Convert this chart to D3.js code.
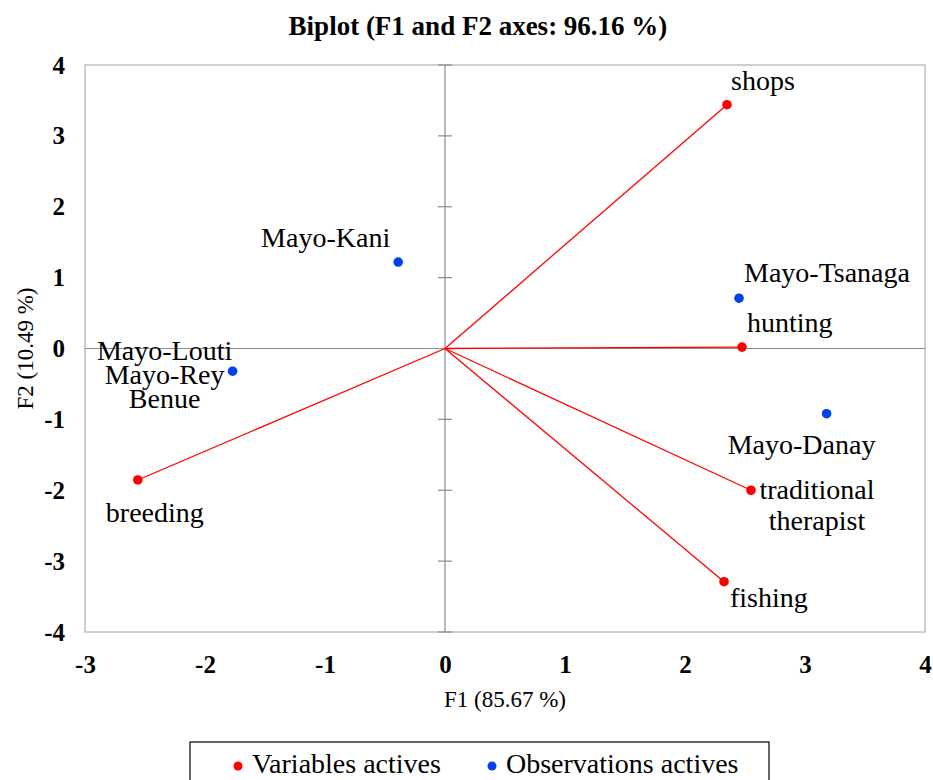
<!DOCTYPE html>
<html lang="en">
  <head>
    <meta charset="UTF-8" />
    <title>Biplot</title>
    <style>
      body { margin: 0; background: #fff; }
      svg text { font-family: 'Liberation Serif', 'Times New Roman', serif; fill: #000; }
    </style>
  </head>
  <body>
    <svg id="chart"></svg>
    <script src="https://cdn.jsdelivr.net/npm/d3@7"></script>
    <script>
      // active variables (arrows from origin)
      const varNames = ['shops', 'hunting', 'traditional therapist', 'fishing', 'breeding'];
      const varF1 = [2.35, 2.475, 2.55, 2.325, -2.56];
      const varF2 = [3.44, 0.02, -2.0, -3.29, -1.855];

      // active observations
      const obsNames = ['Mayo-Kani', 'Mayo-Tsanaga', 'Mayo-Danay', 'Mayo-Louti Mayo-Rey Benue'];
      const obsF1 = [-0.39, 2.45, 3.18, -1.77];
      const obsF2 = [1.22, 0.71, -0.92, -0.32];

      const xTicks = [-3, -2, -1, 0, 1, 2, 3, 4];
      const yTicks = [-4, -3, -2, -1, 0, 1, 2, 3, 4];

      // label placement (pixel offsets from the point), kept apart from the data
      const labelLayout = {
        'shops': { dx: 4, dy: -15, anchor: 'start', lines: ['shops'] },
        'hunting': { dx: 5, dy: -15, anchor: 'start', lines: ['hunting'] },
        'traditional therapist': { dx: 66, dy: 9, anchor: 'middle', lines: ['traditional', 'therapist'], lh: 31 },
        'fishing': { dx: 6, dy: 25, anchor: 'start', lines: ['fishing'] },
        'breeding': { dx: 17, dy: 42, anchor: 'middle', lines: ['breeding'] },
        'Mayo-Kani': { dx: -8, dy: -15, anchor: 'end', lines: ['Mayo-Kani'] },
        'Mayo-Tsanaga': { dx: 5, dy: -16, anchor: 'start', lines: ['Mayo-Tsanaga'] },
        'Mayo-Danay': { dx: -25, dy: 40, anchor: 'middle', lines: ['Mayo-Danay'] },
        'Mayo-Louti Mayo-Rey Benue': { dx: -68, dy: -11, anchor: 'middle', lines: ['Mayo-Louti', 'Mayo-Rey', 'Benue'], lh: 24 }
      };

      const width = 933;
      const height = 780;
      const margin = { top: 65, right: 8, bottom: 148, left: 85 };
      const serif = "'Liberation Serif', 'Times New Roman', serif";

      const svg = d3.select('#chart').attr('width', width).attr('height', height);

      const x = d3.scaleLinear().domain([-3, 4]).range([margin.left, width - margin.right]);
      const y = d3.scaleLinear().domain([-4, 4]).range([height - margin.bottom, margin.top]);

      const variables = varNames.map((n, i) => ({ name: n, f1: varF1[i], f2: varF2[i] }));
      const observations = obsNames.map((n, i) => ({ name: n, f1: obsF1[i], f2: obsF2[i] }));

      // title
      svg.append('text')
        .attr('x', 478).attr('y', 35)
        .attr('text-anchor', 'middle')
        .style('font-size', '27px').style('font-weight', 'bold')
        .text('Biplot (F1 and F2 axes: 96.16 %)');

      // frame
      svg.append('rect')
        .attr('x', x(-3)).attr('y', y(4))
        .attr('width', x(4) - x(-3)).attr('height', y(-4) - y(4))
        .attr('fill', 'none').attr('stroke', '#c0c0c0').attr('stroke-width', 1.5);

      // zero axes
      svg.append('line')
        .attr('x1', x(-3)).attr('x2', x(4)).attr('y1', y(0)).attr('y2', y(0))
        .attr('stroke', '#8c8c8c').attr('stroke-width', 1.2);
      svg.append('line')
        .attr('x1', x(0)).attr('x2', x(0)).attr('y1', y(4)).attr('y2', y(-4))
        .attr('stroke', '#8c8c8c').attr('stroke-width', 1.2);

      // cross ticks on the vertical zero axis
      svg.append('g')
        .selectAll('line')
        .data(yTicks.filter((t) => t !== 0))
        .enter()
        .append('line')
        .attr('x1', x(0) - 7).attr('x2', x(0) + 7)
        .attr('y1', (d) => y(d)).attr('y2', (d) => y(d))
        .attr('stroke', '#8c8c8c').attr('stroke-width', 1.2);

      // tick labels outside the frame
      function styleAxis(g) {
        g.select('.domain').remove();
        g.attr('font-family', serif).attr('font-size', 25).attr('font-weight', 'bold');
      }
      const axisX = d3.axisBottom(x).tickValues(xTicks).tickSize(0).tickPadding(23)
        .tickFormat((d) => String(d));
      svg.append('g')
        .attr('transform', `translate(0,${y(-4)})`)
        .call(axisX)
        .call(styleAxis);

      const axisY = d3.axisLeft(y).tickValues(yTicks).tickSize(0).tickPadding(20)
        .tickFormat((d) => String(d));
      svg.append('g')
        .attr('transform', `translate(${x(-3)},0)`)
        .call(axisY)
        .call(styleAxis);

      // axis titles
      svg.append('text')
        .attr('x', 505).attr('y', 707)
        .attr('text-anchor', 'middle').style('font-size', '23px')
        .text('F1 (85.67 %)');
      svg.append('text')
        .attr('transform', `translate(33,${y(0)}) rotate(-90)`)
        .attr('text-anchor', 'middle').style('font-size', '23px')
        .text('F2 (10.49 %)');

      // arrows for variables
      svg.append('g')
        .selectAll('line')
        .data(variables)
        .enter()
        .append('line')
        .attr('x1', x(0)).attr('y1', y(0))
        .attr('x2', (d) => x(d.f1)).attr('y2', (d) => y(d.f2))
        .attr('stroke', '#ff0000').attr('stroke-width', 1.3);

      svg.append('g')
        .selectAll('circle')
        .data(variables)
        .enter()
        .append('circle')
        .attr('cx', (d) => x(d.f1)).attr('cy', (d) => y(d.f2))
        .attr('r', 4.8).attr('fill', '#ff0000');

      svg.append('g')
        .selectAll('circle')
        .data(observations)
        .enter()
        .append('circle')
        .attr('cx', (d) => x(d.f1)).attr('cy', (d) => y(d.f2))
        .attr('r', 4.8).attr('fill', '#0040f0');

      // point labels
      function drawLabels(data) {
        data.forEach((d) => {
          let lay = labelLayout[d.name];
          let t = svg.append('text')
            .attr('x', x(d.f1) + lay.dx)
            .attr('y', y(d.f2) + lay.dy)
            .attr('text-anchor', lay.anchor)
            .style('font-size', '28px');
          lay.lines.forEach((ln, i) => {
            t.append('tspan')
              .attr('x', x(d.f1) + lay.dx)
              .attr('dy', i === 0 ? 0 : lay.lh)
              .text(ln);
          });
        });
      }
      drawLabels(variables);
      drawLabels(observations);

      // legend
      const legend = svg.append('g');
      legend.append('rect')
        .attr('x', 190).attr('y', 742).attr('width', 579).attr('height', 60)
        .attr('fill', '#fff').attr('stroke', '#000').attr('stroke-width', 1.2);
      const legendItems = [
        { label: 'Variables actives', color: '#ff0000', cx: 238 },
        { label: 'Observations actives', color: '#0040f0', cx: 492 }
      ];
      legendItems.forEach((it) => {
        legend.append('circle').attr('cx', it.cx).attr('cy', 766).attr('r', 4.5).attr('fill', it.color);
        legend.append('text')
          .attr('x', it.cx + 14).attr('y', 773)
          .style('font-size', '28px')
          .text(it.label);
      });
    </script>
  </body>
</html>
